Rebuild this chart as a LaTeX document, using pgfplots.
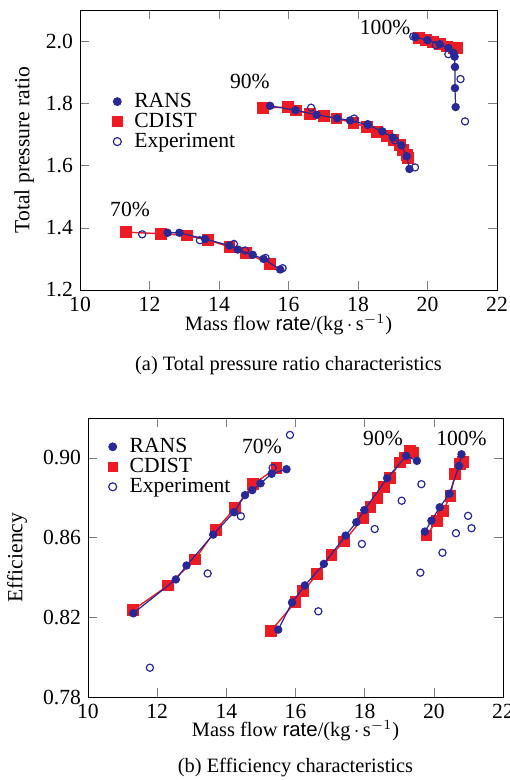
\documentclass[border=0pt]{standalone}
\usepackage{fontspec}
\setmainfont{Liberation Serif}
\setsansfont{Liberation Sans}
\usepackage{pgfplots}
\pgfplotsset{compat=1.18}
\definecolor{ransblue}{RGB}{40,40,150}
\definecolor{cdred}{RGB}{237,28,36}
\newcommand{\fs}{\fontsize{10.8}{12}\selectfont}
\newcommand{\fc}{\fontsize{10.2}{12}\selectfont}
\pgfplotsset{
  myaxis/.style={
    scale only axis,
    clip mode=individual,
    xmin=10, xmax=22, xtick={10,12,...,22},
    tick align=inside,
    /pgf/number format/assume math mode=true,
    tick label style={font=\fs},
    label style={font=\fs},
    legend style={draw=none, fill=none, font=\fs, row sep=0pt, column sep=5.5pt, inner sep=0pt,
      nodes={inner sep=0.6pt, text height=7.2pt, text depth=1.6pt}},
    legend cell align=left,
  },
  cd/.style={color=cdred, line width=0.7pt, mark=square*, mark size=2.6pt, mark options={solid, fill=cdred, draw=cdred}},
  rans/.style={color=ransblue, line width=0.6pt, mark=*, mark size=1.8pt, mark options={solid, fill=ransblue, draw=ransblue}},
  expt/.style={color=ransblue, only marks, mark=o, mark size=1.8pt, mark options={line width=0.6pt}},
}
\begin{document}
\begin{tikzpicture}[font=\fs]
\path[use as bounding box] (0,0) rectangle (254.5pt,-390pt);
% ---------------- (a)
\begin{axis}[myaxis,
  at={(40pt,-145pt)}, anchor=south west,
  width=208.5pt, height=140pt,
  ymin=1.2, ymax=2.1, ytick={1.2,1.4,...,2.0},
  yticklabel style={/pgf/number format/.cd, fixed, fixed zerofill, precision=1},
  ylabel={Total pressure ratio},
  ylabel style={at={(axis description cs:-0.134,0.5)}, anchor=center, rotate=0},
  legend style={at={(axis description cs:0.077,0.71)}, anchor=north west},
]
\addlegendimage{only marks, mark=*, mark size=2pt, color=ransblue}
\addlegendentry{RANS}
\addlegendimage{only marks, mark=square*, mark size=2.4pt, color=cdred}
\addlegendentry{CDIST}
\addlegendimage{only marks, mark=o, mark size=2pt, color=ransblue, mark options={line width=0.6pt}}
\addlegendentry{Experiment}
% CDIST
\addplot[cd, forget plot] coordinates {(11.32,1.386)(12.33,1.381)(13.09,1.375)(13.69,1.360)(14.30,1.339)(14.77,1.319)(15.47,1.284)};
\addplot[cd, forget plot] coordinates {(15.26,1.785)(15.98,1.788)(16.22,1.777)(16.62,1.767)(17.03,1.760)(17.38,1.751)(17.87,1.737)(18.25,1.724)(18.54,1.709)(18.83,1.696)(19.02,1.683)(19.21,1.667)(19.30,1.651)(19.40,1.635)(19.45,1.624)};
\addplot[cd, forget plot] coordinates {(19.75,2.010)(19.95,2.004)(20.15,1.997)(20.35,1.990)(20.55,1.983)(20.75,1.978)(20.85,1.977)};
% RANS
\addplot[rans, forget plot] coordinates {(12.52,1.384)(12.86,1.384)(13.60,1.364)(14.30,1.343)(14.54,1.330)(14.97,1.313)(15.28,1.300)(15.76,1.266)};
\addplot[rans, forget plot] coordinates {(15.47,1.792)(16.20,1.778)(16.81,1.763)(17.40,1.752)(17.77,1.745)(18.28,1.731)(18.70,1.710)(19.00,1.690)(19.25,1.665)(19.40,1.630)(19.48,1.589)};
\addplot[rans, forget plot] coordinates {(19.65,2.013)(20.00,2.003)(20.35,1.990)(20.60,1.978)(20.75,1.962)(20.78,1.950)(20.79,1.917)(20.79,1.849)(20.81,1.788)};
% Experiment
\addplot[expt, forget plot] coordinates {(11.79,1.379)(13.45,1.360)(14.43,1.348)(14.75,1.327)(15.34,1.303)(15.83,1.270)};
\addplot[expt, forget plot] coordinates {(16.65,1.786)(17.89,1.751)(18.28,1.733)(19.06,1.681)(19.64,1.594)};
\addplot[expt, forget plot] coordinates {(19.59,2.015)(20.24,1.987)(20.60,1.958)(20.95,1.878)(21.08,1.742)};
\node at (axis cs:11.44,1.458) {70\%};
\node at (axis cs:14.89,1.869) {90\%};
\node at (axis cs:18.78,2.043) {100\%};
\node[font=\fc] at (axis description cs:0.5,-0.125) {Mass flow \textsf{rate}/(kg$\,\cdot\,$s$^{-1}$)};
\node[font=\fc] at (axis description cs:0.5,-0.27) {(a) Total pressure ratio characteristics};
\end{axis}
% ---------------- (b)
\begin{axis}[myaxis,
  at={(44pt,-348.5pt)}, anchor=south west,
  width=207.5pt, height=139.5pt,
  ymin=0.78, ymax=0.92, ytick={0.78,0.82,0.86,0.90},
  yticklabel style={/pgf/number format/.cd, fixed, fixed zerofill, precision=2},
  ylabel={Efficiency},
  ylabel style={at={(axis description cs:-0.171,0.5)}, anchor=center, rotate=0},
  legend style={at={(axis description cs:0.047,0.934)}, anchor=north west},
]
\addlegendimage{only marks, mark=*, mark size=2pt, color=ransblue}
\addlegendentry{RANS}
\addlegendimage{only marks, mark=square*, mark size=2.4pt, color=cdred}
\addlegendentry{CDIST}
\addlegendimage{only marks, mark=o, mark size=2pt, color=ransblue, mark options={line width=0.6pt}}
\addlegendentry{Experiment}
% CDIST
\addplot[cd, forget plot] coordinates {(11.29,0.8235)(12.32,0.836)(13.09,0.849)(13.70,0.864)(14.25,0.8747)(14.78,0.8868)(15.45,0.895)};
\addplot[cd, forget plot] coordinates {(15.28,0.813)(16.00,0.8277)(16.22,0.833)(16.63,0.8418)(17.04,0.8513)(17.40,0.858)(17.96,0.870)(18.17,0.8755)(18.37,0.880)(18.56,0.8855)(18.73,0.890)(19.02,0.8977)(19.16,0.900)(19.31,0.9035)(19.40,0.9027)};
\addplot[cd, forget plot] coordinates {(19.79,0.861)(20.08,0.8685)(20.27,0.8735)(20.48,0.881)(20.61,0.8918)(20.75,0.8968)(20.85,0.898)};
% RANS
\addplot[rans, forget plot] coordinates {(11.31,0.822)(12.54,0.839)(12.85,0.846)(13.62,0.8615)(14.22,0.8727)(14.54,0.8813)(14.75,0.8838)(14.99,0.8872)(15.31,0.892)(15.74,0.8943)};
\addplot[rans, forget plot] coordinates {(15.50,0.8138)(15.90,0.8274)(16.27,0.836)(16.82,0.8468)(17.45,0.861)(17.76,0.8677)(17.99,0.8738)(18.65,0.8898)(19.20,0.901)(19.51,0.8985)};
\addplot[rans, forget plot] coordinates {(19.74,0.863)(19.93,0.8685)(20.17,0.8752)(20.45,0.882)(20.73,0.896)(20.80,0.9018)};
% Experiment
\addplot[expt, forget plot] coordinates {(11.79,0.7947)(13.46,0.842)(14.42,0.8707)(15.34,0.895)(15.84,0.9115)};
\addplot[expt, forget plot] coordinates {(16.66,0.823)(17.92,0.8568)(18.29,0.8643)(19.07,0.8785)(19.64,0.8868)};
\addplot[expt, forget plot] coordinates {(19.61,0.8424)(20.25,0.8524)(20.64,0.8622)(20.99,0.8709)(21.09,0.8647)};
\node at (axis cs:15.03,0.9055) {70\%};
\node at (axis cs:18.53,0.9095) {90\%};
\node at (axis cs:20.80,0.9095) {100\%};
\node[font=\fc] at (axis description cs:0.5,-0.122) {Mass flow \textsf{rate}/(kg$\,\cdot\,$s$^{-1}$)};
\node[font=\fc] at (axis description cs:0.5,-0.254) {(b) Efficiency characteristics};
\end{axis}
\end{tikzpicture}
\end{document}
